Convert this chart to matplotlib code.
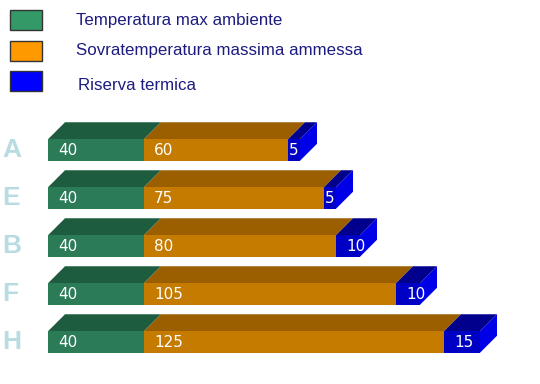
import numpy as np
import matplotlib
matplotlib.use("Agg")
import matplotlib.pyplot as plt
from matplotlib.patches import Rectangle, Polygon

### --- Data ---
categories = ['A', 'E', 'B', 'F', 'H']
temp_ambiente = [40, 40, 40, 40, 40]
sovratemp = [60, 75, 80, 105, 125]
riserva = [5, 5, 10, 10, 15]
series_names = ['Temperatura max ambiente', 'Sovratemperatura massima ammessa', 'Riserva termica']

# colours: legend swatch, front face, top face
legend_cols = ['#339966', '#ff9900', '#0000ff']
front_cols = ['#2a7b56', '#c57a00', '#0000c4']
top_cols = ['#1e5c40', '#9c5f00', '#00008c']
side_col = '#0000e8'

### --- Figure ---
W, H = 540, 384
fig = plt.figure(figsize=(W / 100, H / 100), dpi=100)
ax = fig.add_axes([0, 0, 1, 1])
px_x = 2.4      # pixels per data unit
px_y = 48.0     # pixels per row
ax.set_xlim(-48 / px_x, (W - 48) / px_x)
ax.set_ylim((H - 150) / px_y, -150 / px_y)
ax.axis('off')

h = 21.5 / px_y
dx = 17 / px_x
dy = 17 / px_y

data = np.array([temp_ambiente, sovratemp, riserva])
for i, cat in enumerate(categories):
    left = 0
    top = i - h / 2
    bottom = i + h / 2
    for s in range(3):
        val = data[s, i]
        right = left + val
        ax.add_patch(Polygon([(left, top), (left + dx, top - dy), (right + dx, top - dy), (right, top)],
                             closed=True, facecolor=top_cols[s], edgecolor='none'))
        ax.add_patch(Rectangle((left, top), val, h, facecolor=front_cols[s], edgecolor='none'))
        off = 10 / px_x if val >= 10 else 1 / px_x
        ax.text(left + off, i + 0.02, str(val), color='white', fontsize=11,
                ha='left', va='center', family='DejaVu Sans')
        left = right
    ax.add_patch(Polygon([(left, top), (left + dx, top - dy), (left + dx, bottom - dy), (left, bottom)],
                         closed=True, facecolor=side_col, edgecolor='none'))
    ax.text(-46 / px_x, i, cat, color='#b8dce2', fontsize=19, fontweight='bold',
            ha='left', va='center', family='Liberation Sans')

# legend
leg_y = [20, 51, 81]
leg_text_x = [76, 76, 78]
leg_text_y = [20, 50, 85]
for s in range(3):
    fig.add_artist(Rectangle((10 / W, 1 - (leg_y[s] + 10) / H), 32 / W, 20 / H,
                             transform=fig.transFigure, facecolor=legend_cols[s],
                             edgecolor='#333333', linewidth=1))
    fig.text(leg_text_x[s] / W, 1 - leg_text_y[s] / H, series_names[s], color='#1c1c80',
             fontsize=12.2, ha='left', va='center', family='Liberation Sans')

fig.savefig('out.png', dpi=100)
